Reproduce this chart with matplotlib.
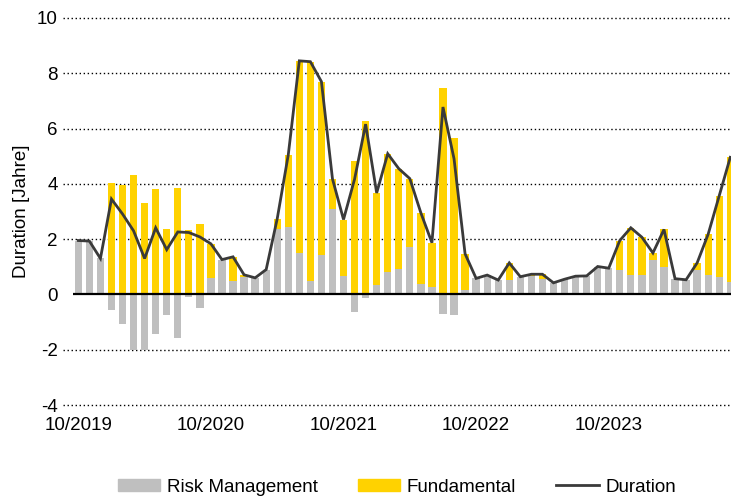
import matplotlib
matplotlib.use('Agg')
import matplotlib.pyplot as plt
import matplotlib.transforms as mtransforms
from matplotlib.patches import Patch
from matplotlib.lines import Line2D
import numpy as np
import pandas as pd

plt.rcParams['font.family'] = ['Liberation Sans', 'DejaVu Sans']
plt.rcParams['axes.unicode_minus'] = False

# monthly categories 10/2019 .. 09/2024
months = pd.date_range('2019-10-01', periods=60, freq='MS').strftime('%m/%Y').tolist()
tick_labels = ['10/2019', '10/2020', '10/2021', '10/2022', '10/2023']

risk_mgmt = [1.95, 1.93, 1.30, -0.58, -1.06, -2.01, -2.01, -1.42, -0.76, -1.59,
             -0.08, -0.48, 0.58, 1.23, 0.50, 0.64, 0.60, 0.90, 2.38, 2.44,
             1.50, 0.48, 1.43, 3.09, 0.66, -0.64, -0.13, 0.34, 0.81, 0.93,
             1.72, 0.37, 0.28, -0.70, -0.75, 0.16, 0.58, 0.70, 0.52, 0.52,
             0.64, 0.65, 0.55, 0.42, 0.55, 0.66, 0.67, 1.01, 0.95, 0.88,
             0.70, 0.72, 1.24, 0.99, 0.57, 0.53, 0.90, 0.70, 0.62, 0.46]
fundamental = [0, 0, 0, 4.03, 3.97, 4.31, 3.31, 3.83, 2.38, 3.85,
               2.32, 2.56, 1.25, 0.03, 0.86, 0.07, 0, 0, 0.36, 2.61,
               6.95, 7.94, 6.27, 1.09, 2.05, 4.81, 6.29, 3.33, 4.28, 3.62,
               2.47, 2.58, 1.59, 7.48, 5.66, 1.31, 0, 0, 0, 0.62,
               0, 0.08, 0.18, 0, 0, 0, 0, 0, 0, 1.07,
               1.71, 1.35, 0.26, 1.36, 0, 0, 0.24, 1.48, 2.95, 4.50]

rm = np.array(risk_mgmt)
fu = np.array(fundamental)
duration = rm + fu
x = np.arange(len(months))

gray = '#BFBFBF'
gold = '#FFD200'
dark = '#3A3A3A'
fs = 13.5

fig = plt.figure(figsize=(7.31, 4.97), dpi=100)
# plot area runs slightly past the right image edge, like the reference crop
ax = fig.add_axes([72.8/731, 1-405/497, 663/731, 387/497])

w = 0.66
ax.bar(x, rm, width=w, color=gray, zorder=2)
gold_bottom = np.where((rm > 0) & (fu >= 0), rm, 0)
ax.bar(x, fu, width=w, bottom=gold_bottom, color=gold, zorder=2)
ax.plot(x, duration, color=dark, lw=2.0, zorder=4, solid_joinstyle='miter')

ax.set_xlim(-0.5, len(months) - 0.5)
ax.set_ylim(-4, 10)
ax.set_yticks(range(-4, 11, 2))

# dotted gridlines, reaching a little left of the plot area
trans = mtransforms.blended_transform_factory(ax.transAxes, ax.transData)
for yv in range(-4, 11, 2):
    if yv == 0:
        continue
    ax.plot([-0.015, 1], [yv, yv], transform=trans, color='black', lw=1.0,
            ls=(0, (1, 1.9)), clip_on=False, zorder=1)
ax.axhline(0, color='black', lw=1.6, zorder=3)

tick_pos = [months.index(t) for t in tick_labels]
ax.set_xticks(tick_pos)
ax.set_xticklabels(tick_labels)
ax.tick_params(axis='x', length=0, pad=9, labelsize=fs)
ax.tick_params(axis='y', length=0, pad=11, labelsize=fs)
for s in ax.spines.values():
    s.set_visible(False)

ax.set_ylabel('Duration [Jahre]', fontsize=fs, labelpad=5)

handles = [Patch(color=gray), Patch(color=gold), Line2D([], [], color=dark, lw=2)]
ax.legend(handles, ['Risk Management', 'Fundamental', 'Duration'],
          loc='center', bbox_to_anchor=(0.489, -0.212), ncol=3, frameon=False,
          fontsize=fs, handlelength=2.25, handleheight=0.55, handletextpad=0.35,
          columnspacing=2.15)

fig.savefig('out.png', dpi=100)
